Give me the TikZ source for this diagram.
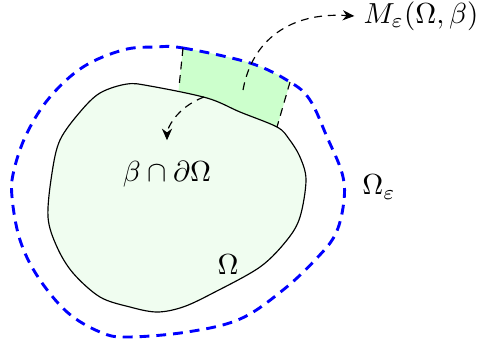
\documentclass[tikz,border=0pt]{standalone}
\usetikzlibrary{arrows.meta}
\definecolor{innerfill}{HTML}{F0FDF0}
\definecolor{stripfill}{HTML}{CCFFCC}
\begin{document}
\begin{tikzpicture}[x=0.345pt,y=-0.345pt,
  blueline/.style={draw=blue,line width=1pt,dash pattern=on 3.4pt off 2.4pt},
  sideline/.style={draw=black,thin,dash pattern=on 2.7pt off 2pt},
  arrowline/.style={draw=black,thin,dash pattern=on 2.7pt off 2pt,-{Stealth[length=4pt,width=3.5pt]}},
  lbl/.style={inner sep=0pt}]
\useasboundingbox (0,0) rectangle (478,350);
\def\outerpath{plot[smooth cycle,tension=0.6] coordinates {(155,47) (183,48) (250,63) (290,82) (310,100) (327,137) (342,173) (344,200) (336,233) (317,258) (283,290) (240,319) (187,332) (127,337) (100,332) (67,312) (38,277) (20,240) (12,197) (14,170) (27,133) (50,97) (83,67) (123,50)}}
\def\innerpath{plot[smooth cycle,tension=0.55] coordinates {(127,84) (150,86) (207,98) (240,112) (277,127) (289,139) (300,157) (306,180) (300,217) (287,240) (260,267) (213,293) (183,307) (157,312) (130,307) (100,297) (73,273) (57,247) (48,217) (52,173) (60,140) (80,112) (100,93)}}
% strip region
\begin{scope}
  \clip (177,105) -- (184,38) -- (293,72) -- (272,145) -- cycle;
  \fill[stripfill] \outerpath;
\end{scope}
% Omega
\fill[innerfill] \innerpath;
\draw[black,thin] \innerpath;
% Omega_eps
\draw[blueline] \outerpath;
% strip sides
\coordinate (s1a) at (183,48);
\coordinate (s1b) at (179,87);
\coordinate (s2a) at (290,82);
\coordinate (s2b) at (277,127);
\draw[sideline] (s1a) -- (s1b);
\draw[sideline] (s2a) -- (s2b);
% labels
\node[lbl] (M) at (421,16) {$M_\varepsilon(\Omega,\beta)$};
\node[lbl] (B) at (167,174) {$\beta\cap\partial\Omega$};
\node[lbl] (O) at (228,265) {$\Omega$};
\node[lbl] (Oe) at (379,187) {$\Omega_\varepsilon$};
% arrows
\coordinate (a1) at (243,90);
\coordinate (a2) at (204,97);
\draw[arrowline] (a1) .. controls (252,40) and (290,12) .. ([xshift=-3pt]M.west);
\draw[arrowline] (a2) .. controls (175,108) and (167,130) .. ([yshift=7pt]B.north);
\end{tikzpicture}
\end{document}
